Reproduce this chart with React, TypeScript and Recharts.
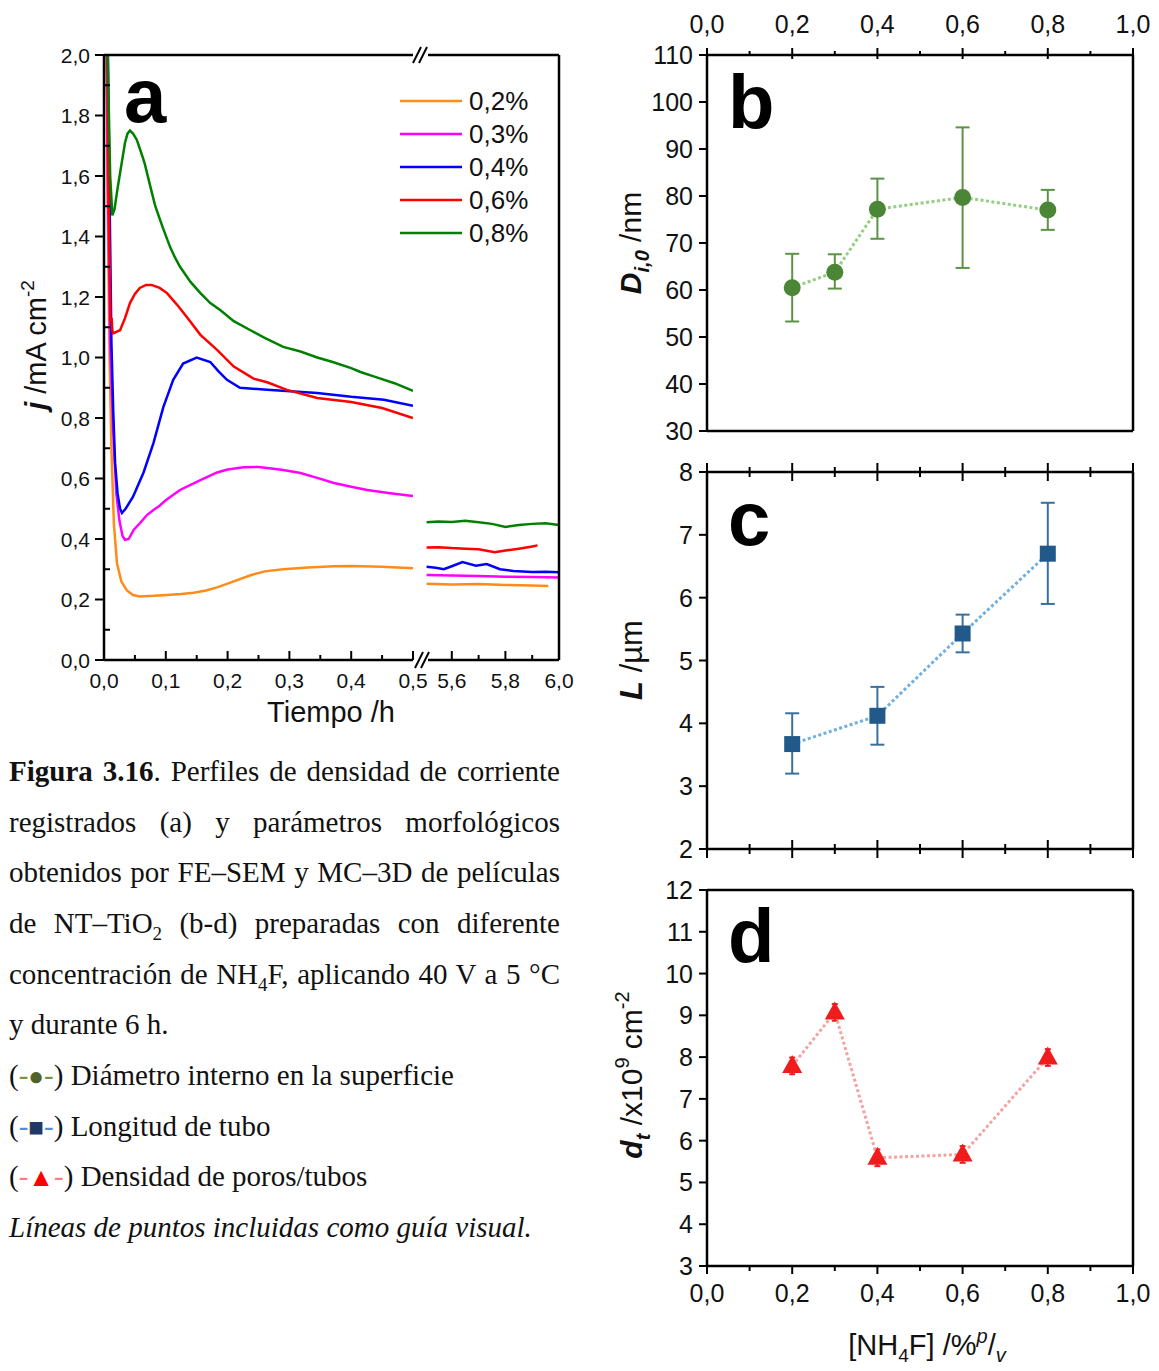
import React from "react";
import { LineChart, Line, XAxis, YAxis, ErrorBar } from "recharts";

// ---- panel a: current density transients ----
const namesA = ["0,2%", "0,3%", "0,4%", "0,6%", "0,8%"];
const colorsA = ["#ff8c1a", "#ff00ff", "#0000ff", "#ff0000", "#008000"];

const t02a = [0.002, 0.006, 0.009, 0.012, 0.016, 0.021, 0.028, 0.037, 0.047, 0.058, 0.08, 0.101, 0.125, 0.145, 0.165, 0.183, 0.21, 0.237, 0.26, 0.29, 0.33, 0.372, 0.4, 0.45, 0.5];
const j02a = [2.6, 1.5, 1.0, 0.7, 0.45, 0.32, 0.26, 0.23, 0.215, 0.21, 0.212, 0.215, 0.218, 0.222, 0.23, 0.24, 0.26, 0.28, 0.293, 0.3, 0.306, 0.31, 0.311, 0.308, 0.303];
const t03a = [0.002, 0.006, 0.01, 0.015, 0.02, 0.025, 0.03, 0.034, 0.04, 0.048, 0.058, 0.07, 0.08, 0.09, 0.101, 0.123, 0.156, 0.183, 0.2, 0.226, 0.25, 0.264, 0.29, 0.318, 0.345, 0.372, 0.4, 0.426, 0.46, 0.5];
const j03a = [2.6, 1.6, 1.05, 0.75, 0.55, 0.46, 0.41, 0.397, 0.4, 0.43, 0.452, 0.48, 0.496, 0.51, 0.53, 0.562, 0.595, 0.62, 0.63, 0.637, 0.638, 0.635, 0.628, 0.618, 0.602, 0.585, 0.573, 0.562, 0.552, 0.542];
const t04a = [0.003, 0.008, 0.012, 0.015, 0.018, 0.022, 0.026, 0.029, 0.035, 0.047, 0.064, 0.08, 0.096, 0.112, 0.128, 0.15, 0.172, 0.185, 0.199, 0.22, 0.264, 0.345, 0.4, 0.453, 0.5];
const j04a = [2.6, 1.7, 1.05, 0.82, 0.65, 0.55, 0.5, 0.486, 0.5, 0.54, 0.62, 0.717, 0.836, 0.926, 0.98, 1.0, 0.985, 0.955, 0.926, 0.9, 0.893, 0.883, 0.87, 0.86, 0.84];
const t06a = [0.003, 0.007, 0.0105, 0.0124, 0.0135, 0.015, 0.02, 0.026, 0.034, 0.042, 0.05, 0.058, 0.068, 0.077, 0.09, 0.102, 0.118, 0.134, 0.156, 0.183, 0.21, 0.242, 0.264, 0.296, 0.345, 0.4, 0.45, 0.5];
const j06a = [2.6, 1.6, 1.12, 1.13, 1.09, 1.08, 1.085, 1.09, 1.13, 1.18, 1.21, 1.23, 1.24, 1.24, 1.23, 1.213, 1.175, 1.134, 1.075, 1.025, 0.97, 0.93, 0.918, 0.893, 0.866, 0.853, 0.833, 0.8];
const t08a = [0.002, 0.006, 0.01, 0.0135, 0.017, 0.022, 0.026, 0.03, 0.034, 0.038, 0.042, 0.047, 0.053, 0.058, 0.063, 0.066, 0.075, 0.083, 0.095, 0.107, 0.115, 0.123, 0.14, 0.156, 0.172, 0.188, 0.21, 0.237, 0.26, 0.29, 0.318, 0.345, 0.37, 0.4, 0.415, 0.44, 0.47, 0.5];
const j08a = [2.6, 2.0, 1.6, 1.47, 1.49, 1.56, 1.61, 1.66, 1.71, 1.74, 1.75, 1.74, 1.72, 1.69, 1.66, 1.64, 1.565, 1.5, 1.43, 1.365, 1.33, 1.3, 1.25, 1.213, 1.18, 1.157, 1.12, 1.09, 1.065, 1.035, 1.02, 1.0, 0.985, 0.965, 0.952, 0.935, 0.915, 0.89];

// after the axis break (5,5 - 6,0 h)
const t02b = [5.506, 5.6, 5.7, 5.8, 5.9, 5.96];
const j02b = [0.252, 0.25, 0.251, 0.248, 0.246, 0.245];
const t03b = [5.506, 5.6, 5.7, 5.8, 5.9, 6.0];
const j03b = [0.281, 0.279, 0.278, 0.275, 0.274, 0.273];
const t04b = [5.506, 5.54, 5.57, 5.6, 5.64, 5.69, 5.73, 5.78, 5.83, 5.9, 5.95, 6.0];
const j04b = [0.308, 0.305, 0.3, 0.31, 0.324, 0.312, 0.317, 0.3, 0.294, 0.291, 0.292, 0.29];
const t06b = [5.506, 5.55, 5.6, 5.65, 5.7, 5.76, 5.8, 5.85, 5.9, 5.92];
const j06b = [0.372, 0.373, 0.37, 0.368, 0.366, 0.356, 0.362, 0.368, 0.375, 0.379];
const t08b = [5.506, 5.55, 5.6, 5.65, 5.7, 5.75, 5.8, 5.85, 5.9, 5.95, 6.0];
const j08b = [0.455, 0.458, 0.456, 0.46, 0.455, 0.45, 0.44, 0.446, 0.45, 0.452, 0.446];

const ticksAY = [0, 0.1, 0.2, 0.3, 0.4, 0.5, 0.6, 0.7, 0.8, 0.9, 1.0, 1.1, 1.2, 1.3, 1.4, 1.5, 1.6, 1.7, 1.8, 1.9, 2.0];
const ticksA1X = [0, 0.05, 0.1, 0.15, 0.2, 0.25, 0.3, 0.35, 0.4, 0.45, 0.5];
const ticksA2X = [5.6, 5.7, 5.8, 5.9, 6.0];

// ---- panels b-d: morphology vs [NH4F] ----
const concB = [0.2, 0.3, 0.4, 0.6, 0.8];
const diamB = [60.5, 63.8, 77.2, 79.7, 77.0];
const diamErr = [[7.2, 7.2], [3.5, 3.8], [6.3, 6.5], [15, 14.9], [4.2, 4.3]];

const concC = [0.2, 0.4, 0.6, 0.8];
const lenC = [3.67, 4.12, 5.43, 6.7];
const lenErr = [[0.47, 0.49], [0.46, 0.46], [0.3, 0.3], [0.8, 0.81]];

const concD = [0.2, 0.3, 0.4, 0.6, 0.8];
const densD = [7.79, 9.07, 5.59, 5.67, 7.99];
const densErr = [[0.2, 0.2], [0.2, 0.2], [0.2, 0.2], [0.2, 0.2], [0.2, 0.2]];

const ticksConc = [0, 0.1, 0.2, 0.3, 0.4, 0.5, 0.6, 0.7, 0.8, 0.9, 1.0];
const ticksB = [30, 40, 50, 60, 70, 80, 90, 100, 110];
const ticksC = [2, 3, 4, 5, 6, 7, 8];
const ticksD = [3, 4, 5, 6, 7, 8, 9, 10, 11, 12];

const zip = (t: number[], j: number[]) => t.map((x, i) => ({ t: x, j: j[i] }));
const early = [zip(t02a, j02a), zip(t03a, j03a), zip(t04a, j04a), zip(t06a, j06a), zip(t08a, j08a)];
const late = [zip(t02b, j02b), zip(t03b, j03b), zip(t04b, j04b), zip(t06b, j06b), zip(t08b, j08b)];

const rowsB = concB.map((c, i) => ({ c, v: diamB[i], err: diamErr[i] }));
const rowsC = concC.map((c, i) => ({ c, v: lenC[i], err: lenErr[i] }));
const rowsD = concD.map((c, i) => ({ c, v: densD[i], err: densErr[i] }));

const SANS = "'Liberation Sans', Arial, sans-serif";
const AX = { stroke: "#000", strokeWidth: 2.5 };
const comma = (v: number) => v.toFixed(1).replace(".", ",");
const whole = (v: number) => String(Math.round(v));

interface TickSpec {
  side: "left" | "top" | "bottom";
  origin: number;
  step: number;
  outMaj: number;
  inMaj: number;
  outMin: number;
  inMin: number;
  font?: number;
  gap?: number;
  fmt?: (v: number) => string;
}

// draws tick mark + label itself (tickSize=0 so x/y is the axis point)
function tickRenderer(s: TickSpec) {
  return (p: any) => {
    const v = Number(p.payload.value);
    const k = (v - s.origin) / s.step;
    const major = Math.abs(k - Math.round(k)) < 1e-6;
    const out = major ? s.outMaj : s.outMin;
    const inn = major ? s.inMaj : s.inMin;
    const label = major && s.fmt ? s.fmt(v) : null;
    const { x, y } = p;
    if (s.side === "left") {
      return (
        <g key={p.index}>
          <line x1={x - out} x2={x + inn} y1={y} y2={y} stroke="#000" strokeWidth={2} />
          {label && (
            <text x={x - (s.gap ?? 14)} y={y} textAnchor="end" dominantBaseline="central" fontSize={s.font} fill="#111" fontFamily={SANS}>
              {label}
            </text>
          )}
        </g>
      );
    }
    if (s.side === "top") {
      return (
        <g key={p.index}>
          <line x1={x} x2={x} y1={y - out} y2={y + inn} stroke="#000" strokeWidth={2} />
          {label && (
            <text x={x} y={y - (s.gap ?? 20)} textAnchor="middle" fontSize={s.font} fill="#111" fontFamily={SANS}>
              {label}
            </text>
          )}
        </g>
      );
    }
    return (
      <g key={p.index}>
        <line x1={x} x2={x} y1={y + out} y2={y - inn} stroke="#000" strokeWidth={2} />
        {label && (
          <text x={x} y={y + (s.gap ?? 28)} textAnchor="middle" fontSize={s.font} fill="#111" fontFamily={SANS}>
            {label}
          </text>
        )}
      </g>
    );
  };
}

function PanelA() {
  return (
    <>
      <div style={{ position: "absolute", left: 0, top: 0 }}>
        <LineChart width={440} height={740} margin={{ top: 54, right: 27, bottom: 0, left: 34 }}>
          <XAxis
            dataKey="t"
            type="number"
            domain={[0, 0.5]}
            allowDataOverflow
            ticks={ticksA1X}
            interval={0}
            height={80}
            tickSize={0}
            tickMargin={0}
            tickLine={false}
            axisLine={AX}
            tick={tickRenderer({ side: "bottom", origin: 0, step: 0.1, outMaj: 0, inMaj: 9, outMin: 0, inMin: 5, font: 21, gap: 28, fmt: comma })}
          />
          <XAxis xAxisId="top" orientation="top" type="number" domain={[0, 0.5]} ticks={ticksA1X} allowDataOverflow height={1} tick={false} tickLine={false} axisLine={AX} />
          <YAxis
            type="number"
            domain={[0, 2]}
            allowDataOverflow
            ticks={ticksAY}
            interval={0}
            width={70}
            tickSize={0}
            tickMargin={0}
            tickLine={false}
            axisLine={AX}
            tick={tickRenderer({ side: "left", origin: 0, step: 0.2, outMaj: 9, inMaj: 0, outMin: 0, inMin: 6, font: 21, gap: 14, fmt: comma })}
          />
          {early.map((d, i) => (
            <Line key={namesA[i]} name={namesA[i]} data={d} dataKey="j" stroke={colorsA[i]} strokeWidth={2.5} dot={false} isAnimationActive={false} />
          ))}
        </LineChart>
      </div>
      <div style={{ position: "absolute", left: 420, top: 0 }}>
        <LineChart width={160} height={740} margin={{ top: 54, right: 20, bottom: 0, left: 5 }}>
          <XAxis
            dataKey="t"
            type="number"
            domain={[5.5, 6.0]}
            allowDataOverflow
            ticks={ticksA2X}
            interval={0}
            height={80}
            tickSize={0}
            tickMargin={0}
            tickLine={false}
            axisLine={AX}
            tick={tickRenderer({ side: "bottom", origin: 5.6, step: 0.2, outMaj: 0, inMaj: 9, outMin: 0, inMin: 5, font: 21, gap: 28, fmt: comma })}
          />
          <XAxis xAxisId="top" orientation="top" type="number" domain={[5.5, 6.0]} ticks={ticksA2X} allowDataOverflow height={1} tick={false} tickLine={false} axisLine={AX} />
          <YAxis type="number" domain={[0, 2]} allowDataOverflow hide />
          <YAxis yAxisId="r" orientation="right" type="number" domain={[0, 2]} ticks={ticksAY} allowDataOverflow width={1} tick={false} tickLine={false} axisLine={AX} />
          {late.map((d, i) => (
            <Line key={namesA[i]} name={namesA[i]} data={d} dataKey="j" stroke={colorsA[i]} strokeWidth={2.5} dot={false} isAnimationActive={false} />
          ))}
        </LineChart>
      </div>
    </>
  );
}

const circleDot = (p: any) => <circle key={p.index} cx={p.cx} cy={p.cy} r={8.5} fill="#4b8636" />;
const squareDot = (p: any) => <rect key={p.index} x={p.cx - 8} y={p.cy - 8} width={16} height={16} fill="#215a8a" />;
const triangleDot = (p: any) => (
  <path key={p.index} d={`M${p.cx},${p.cy - 11} L${p.cx + 10},${p.cy + 7} L${p.cx - 10},${p.cy + 7} Z`} fill="#ee1c1c" />
);

interface SmallProps {
  top: number;
  height: number;
  rows: { c: number; v: number; err: number[] }[];
  domain: [number, number];
  yTicks: number[];
  margin: { top: number; right: number; bottom: number; left: number };
  lineColor: string;
  barColor: string;
  dot: (p: any) => React.ReactElement;
  capWidth: number;
  topAxis: "labels" | "cross" | "plain";
  bottomAxis: "labels" | "cross" | "plain";
}

function SmallPanel(p: SmallProps) {
  const topTick =
    p.topAxis === "labels"
      ? tickRenderer({ side: "top", origin: 0, step: 0.2, outMaj: 7, inMaj: 4, outMin: 4, inMin: 0, font: 25, gap: 22, fmt: comma })
      : tickRenderer({ side: "top", origin: 0, step: 0.2, outMaj: 9, inMaj: 9, outMin: 5, inMin: 5 });
  const bottomTick =
    p.bottomAxis === "labels"
      ? tickRenderer({ side: "bottom", origin: 0, step: 0.2, outMaj: 8, inMaj: 0, outMin: 5, inMin: 0, font: 25, gap: 36, fmt: comma })
      : tickRenderer({ side: "bottom", origin: 0, step: 0.2, outMaj: 9, inMaj: 9, outMin: 5, inMin: 5 });
  return (
    <div style={{ position: "absolute", left: 600, top: p.top }}>
      <LineChart width={559} height={p.height} data={p.rows} margin={p.margin}>
        <XAxis
          xAxisId="top"
          orientation="top"
          dataKey="c"
          type="number"
          domain={[0, 1]}
          ticks={ticksConc}
          interval={0}
          height={p.topAxis === "labels" ? 45 : 1}
          tickSize={0}
          tickMargin={0}
          tickLine={false}
          axisLine={AX}
          tick={p.topAxis === "plain" ? false : topTick}
        />
        <XAxis
          xAxisId="bottom"
          orientation="bottom"
          dataKey="c"
          type="number"
          domain={[0, 1]}
          ticks={ticksConc}
          interval={0}
          height={p.bottomAxis === "labels" ? 60 : 1}
          tickSize={0}
          tickMargin={0}
          tickLine={false}
          axisLine={AX}
          tick={p.bottomAxis === "plain" ? false : bottomTick}
        />
        <YAxis
          yAxisId="l"
          type="number"
          domain={p.domain}
          ticks={p.yTicks}
          interval={0}
          width={60}
          tickSize={0}
          tickMargin={0}
          tickLine={false}
          axisLine={AX}
          tick={tickRenderer({ side: "left", origin: p.domain[0], step: 1e-9, outMaj: 8, inMaj: 0, outMin: 8, inMin: 0, font: 25, gap: 14, fmt: whole })}
        />
        <YAxis yAxisId="r" orientation="right" type="number" domain={p.domain} ticks={p.yTicks} width={1} tick={false} tickLine={false} axisLine={AX} />
        <Line
          xAxisId="bottom"
          yAxisId="l"
          dataKey="v"
          stroke={p.lineColor}
          strokeWidth={3}
          strokeDasharray="3 2.5"
          dot={p.dot}
          activeDot={false}
          isAnimationActive={false}
        >
          <ErrorBar dataKey="err" direction="y" width={p.capWidth} stroke={p.barColor} strokeWidth={2} />
        </Line>
      </LineChart>
    </div>
  );
}

function Overlay() {
  const legendTop = 101;
  const legendStep = 33;
  return (
    <svg width={1159} height={1371} style={{ position: "absolute", left: 0, top: 0, pointerEvents: "none" }} fontFamily={SANS}>
      {/* axis break marks */}
      <rect x={414} y={45} width={14} height={20} fill="#fff" />
      <rect x={414} y={650} width={14} height={20} fill="#fff" />
      <line x1={413} y1={63} x2={421} y2={47} stroke="#000" strokeWidth={2} />
      <line x1={419} y1={63} x2={427} y2={47} stroke="#000" strokeWidth={2} />
      <line x1={415} y1={668} x2={423} y2={652} stroke="#000" strokeWidth={2} />
      <line x1={421} y1={668} x2={429} y2={652} stroke="#000" strokeWidth={2} />

      {/* legend a */}
      {namesA.map((n, i) => (
        <g key={n}>
          <line x1={400} x2={462} y1={legendTop + i * legendStep} y2={legendTop + i * legendStep} stroke={colorsA[i]} strokeWidth={2.5} />
          <text x={469} y={legendTop + i * legendStep + 9} fontSize={26} fill="#111">
            {n}
          </text>
        </g>
      ))}

      {/* panel letters */}
      <text x={124} y={122} fontSize={76} fontWeight="bold" fill="#000">a</text>
      <text x={728} y={128} fontSize={76} fontWeight="bold" fill="#000">b</text>
      <text x={728} y={545} fontSize={76} fontWeight="bold" fill="#000">c</text>
      <text x={728} y={962} fontSize={76} fontWeight="bold" fill="#000">d</text>

      {/* axis titles */}
      <text x={331} y={722} fontSize={29} textAnchor="middle" fill="#111">Tiempo /h</text>
      <text transform="rotate(-90)" x={-345} y={46} fontSize={29} textAnchor="middle" fill="#111">
        <tspan fontWeight="bold" fontStyle="italic">j</tspan>
        <tspan> /mA cm</tspan>
        <tspan fontSize={19} dy={-12}>-2</tspan>
      </text>
      <text transform="rotate(-90)" x={-243} y={641} fontSize={30} textAnchor="middle" fill="#111">
        <tspan fontWeight="bold" fontStyle="italic">D</tspan>
        <tspan fontWeight="bold" fontStyle="italic" fontSize={20} dy={8}>i,0</tspan>
        <tspan dy={-8}> /nm</tspan>
      </text>
      <text transform="rotate(-90)" x={-660} y={642} fontSize={31} textAnchor="middle" fill="#111">
        <tspan fontWeight="bold" fontStyle="italic">L</tspan>
        <tspan> /µm</tspan>
      </text>
      <text transform="rotate(-90)" x={-1075} y={642} fontSize={30} textAnchor="middle" fill="#111">
        <tspan fontWeight="bold" fontStyle="italic">d</tspan>
        <tspan fontWeight="bold" fontStyle="italic" fontSize={20} dy={8}>t</tspan>
        <tspan dy={-8}> /x10</tspan>
        <tspan fontSize={20} dy={-13}>9</tspan>
        <tspan dy={13}> cm</tspan>
        <tspan fontSize={20} dy={-13}>-2</tspan>
      </text>
      <text x={927} y={1355} fontSize={29} textAnchor="middle" fill="#111">
        <tspan>[NH</tspan>
        <tspan fontSize={19} dy={7}>4</tspan>
        <tspan dy={-7}>F] /%</tspan>
        <tspan fontSize={20} fontStyle="italic" dy={-12}>p</tspan>
        <tspan dy={12}>/</tspan>
        <tspan fontSize={20} fontStyle="italic" dy={7}>v</tspan>
      </text>
    </svg>
  );
}

const SERIF = "'Liberation Serif', 'Times New Roman', serif";
const just: React.CSSProperties = { textAlign: "justify", textAlignLast: "justify" };
const sym: React.CSSProperties = { fontSize: 26, lineHeight: 0 };

function Caption() {
  return (
    <div style={{ position: "absolute", left: 9, top: 746, width: 551, fontFamily: SERIF, fontSize: 29, lineHeight: "50.67px", color: "#111" }}>
      <div style={just}>
        <b>Figura 3.16</b>. Perfiles de densidad de corriente
      </div>
      <div style={just}>registrados (a) y parámetros morfológicos</div>
      <div style={just}>obtenidos por FE–SEM y MC–3D de películas</div>
      <div style={just}>
        de NT–TiO<sub style={{ fontSize: 19, lineHeight: 0 }}>2</sub> (b-d) preparadas con diferente
      </div>
      <div style={just}>
        concentración de NH<sub style={{ fontSize: 19, lineHeight: 0 }}>4</sub>F, aplicando 40 V a 5 °C
      </div>
      <div>y durante 6 h.</div>
      <div style={{ height: 50.67 }}>
        (<span style={{ color: "#77933c" }}>-</span>
        <span style={{ ...sym, color: "#4f6228" }}>●</span>
        <span style={{ color: "#77933c" }}>-</span>) Diámetro interno en la superficie
      </div>
      <div style={{ height: 50.67 }}>
        (<span style={{ color: "#548dd4" }}>-</span>
        <span style={{ ...sym, color: "#1f3864" }}>■</span>
        <span style={{ color: "#548dd4" }}>-</span>) Longitud de tubo
      </div>
      <div style={{ height: 50.67 }}>
        (<span style={{ color: "#ff7c80" }}>-</span>
        <span style={{ ...sym, color: "#ff0000" }}>▲</span>
        <span style={{ color: "#ff7c80" }}>-</span>) Densidad de poros/tubos
      </div>
      <div style={{ fontStyle: "italic" }}>Líneas de puntos incluidas como guía visual.</div>
    </div>
  );
}

export default function App() {
  return (
    <div style={{ position: "absolute", left: 0, top: 0, width: 1159, height: 1371, background: "#fff", overflow: "hidden" }}>
      <PanelA />
      <SmallPanel
        top={0}
        height={450}
        rows={rowsB}
        domain={[30, 110]}
        yTicks={ticksB}
        margin={{ top: 10, right: 25, bottom: 18, left: 47 }}
        lineColor="#93cf82"
        barColor="#5b9347"
        dot={circleDot}
        capWidth={7}
        topAxis="labels"
        bottomAxis="plain"
      />
      <SmallPanel
        top={450}
        height={420}
        rows={rowsC}
        domain={[2, 8]}
        yTicks={ticksC}
        margin={{ top: 21, right: 25, bottom: 20, left: 47 }}
        lineColor="#6fb0e2"
        barColor="#3a6f9e"
        dot={squareDot}
        capWidth={7}
        topAxis="cross"
        bottomAxis="cross"
      />
      <SmallPanel
        top={870}
        height={501}
        rows={rowsD}
        domain={[3, 12]}
        yTicks={ticksD}
        margin={{ top: 19, right: 25, bottom: 45, left: 47 }}
        lineColor="#f4a3a3"
        barColor="#ee1c1c"
        dot={triangleDot}
        capWidth={3}
        topAxis="plain"
        bottomAxis="labels"
      />
      <Caption />
      <Overlay />
    </div>
  );
}
